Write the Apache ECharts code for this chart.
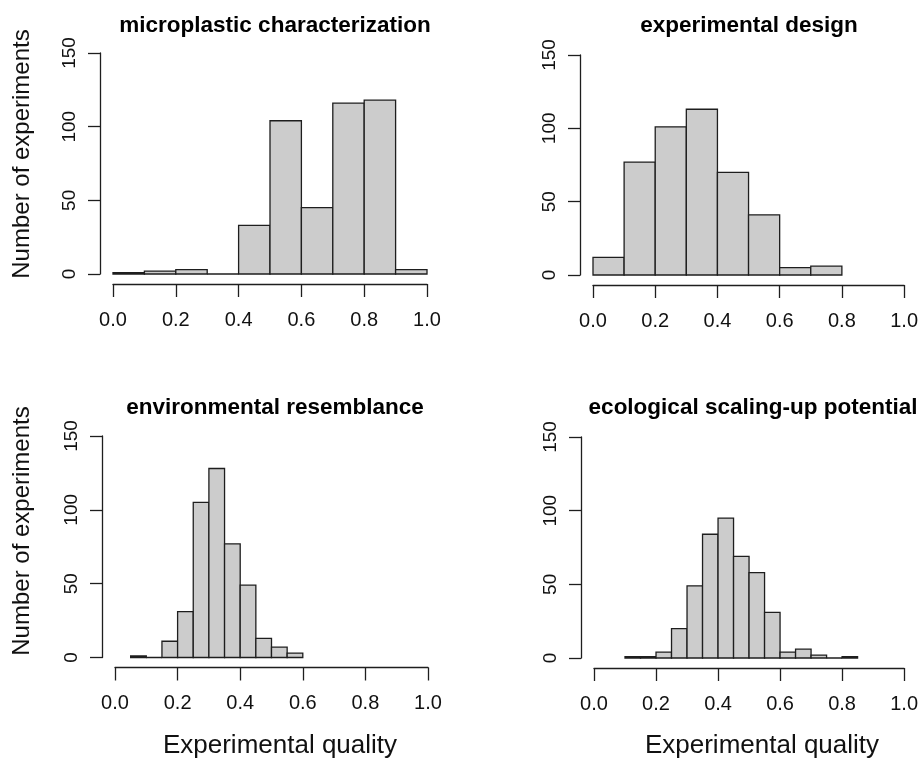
<!DOCTYPE html>
<html>
<head>
<meta charset="utf-8">
<script src="https://cdn.jsdelivr.net/npm/echarts@6/dist/echarts.min.js"></script>
<style>
html,body{margin:0;padding:0;background:#fff;}
#chart{width:921px;height:759px;}
</style>
</head>
<body>
<div id="chart"></div>
<script>
// ---- data ----
const panelTitles = ['microplastic characterization', 'experimental design', 'environmental resemblance', 'ecological scaling-up potential'];
const xTitle = 'Experimental quality';
const yTitle = 'Number of experiments';

const edges1 = [0.0, 0.1, 0.2, 0.3, 0.4, 0.5, 0.6, 0.7, 0.8, 0.9, 1.0];
const counts1 = [1, 2, 3, 0, 33, 104, 45, 116, 118, 3];

const edges2 = [0.0, 0.1, 0.2, 0.3, 0.4, 0.5, 0.6, 0.7, 0.8];
const counts2 = [12, 77, 101, 113, 70, 41, 5, 6];

const edges3 = [0.05, 0.10, 0.15, 0.20, 0.25, 0.30, 0.35, 0.40, 0.45, 0.50, 0.55, 0.60];
const counts3 = [1, 0, 11, 31, 105, 128, 77, 49, 13, 7, 3];

const edges4 = [0.10, 0.15, 0.20, 0.25, 0.30, 0.35, 0.40, 0.45, 0.50, 0.55, 0.60, 0.65, 0.70, 0.75, 0.80, 0.85];
const counts4 = [1, 1, 4, 20, 49, 84, 95, 69, 58, 31, 4, 6, 2, 0, 1];

const xTicks = [0.0, 0.2, 0.4, 0.6, 0.8, 1.0];
const yTicks = [0, 50, 100, 150];

// ---- build ----
const FONT = '"Liberation Sans", Arial, Helvetica, sans-serif';
const AX = '#1e1e1e';

function binData(edges, counts) {
  return counts.map((c, i) => [edges[i], edges[i + 1], c]);
}
const panels = [
  binData(edges1, counts1),
  binData(edges2, counts2),
  binData(edges3, counts3),
  binData(edges4, counts4)
];

const grids = [
  {left: 113, top: 53, width: 314, height: 221},
  {left: 593, top: 55, width: 313, height: 220},
  {left: 115, top: 436, width: 313, height: 221.5},
  {left: 594, top: 437, width: 313, height: 221}
];

const xAxes = grids.map((g, i) => ({
  type: 'value', gridIndex: i,
  min: xTicks[0], max: xTicks[xTicks.length - 1], interval: 0.2,
  offset: 10,
  axisLine: {show: true, onZero: false, lineStyle: {color: AX, width: 1.3}},
  axisTick: {show: true, length: 13, lineStyle: {color: AX, width: 1.3}},
  axisLabel: {margin: 26, fontSize: 20, color: '#111', fontFamily: FONT,
    formatter: v => v.toFixed(1)},
  splitLine: {show: false}
}));

const yAxes = grids.map((g, i) => ({
  type: 'value', gridIndex: i,
  min: yTicks[0], max: yTicks[yTicks.length - 1], interval: 50,
  offset: 13,
  axisLine: {show: true, onZero: false, lineStyle: {color: AX, width: 1.3}},
  axisTick: {show: true, length: 12, lineStyle: {color: AX, width: 1.3}},
  axisLabel: {margin: 21, fontSize: 19, color: '#111', fontFamily: FONT, rotate: 90},
  splitLine: {show: false}
}));

const series = panels.map((d, i) => ({
  type: 'custom', xAxisIndex: i, yAxisIndex: i,
  data: d,
  encode: {x: [0, 1], y: 2},
  renderItem: function (params, api) {
    const p0 = api.coord([api.value(0), 0]);
    const p1 = api.coord([api.value(1), api.value(2)]);
    return {
      type: 'rect',
      shape: {x: p0[0], y: p1[1], width: p1[0] - p0[0], height: p0[1] - p1[1]},
      style: {fill: '#cccccc', stroke: '#1e1e1e', lineWidth: 1.3}
    };
  },
  silent: true
}));

const titlePos = [[270, 23], [744, 23], [270, 405], [748, 405]];
const titles = panelTitles.map((t, i) => ({
  text: t, left: titlePos[i][0], top: titlePos[i][1] - 14, textAlign: 'center',
  textStyle: {fontSize: 22.5, fontWeight: 'bold', color: '#000', fontFamily: FONT}
}));

const graphic = [
  {type: 'text', x: 22.5, y: 154, rotation: Math.PI / 2,
    style: {text: yTitle, fontSize: 24, fontFamily: FONT, fill: '#111', align: 'center', verticalAlign: 'middle'}},
  {type: 'text', x: 22.5, y: 531, rotation: Math.PI / 2,
    style: {text: yTitle, fontSize: 24, fontFamily: FONT, fill: '#111', align: 'center', verticalAlign: 'middle'}},
  {type: 'text', x: 280, y: 746,
    style: {text: xTitle, fontSize: 26, fontFamily: FONT, fill: '#111', align: 'center', verticalAlign: 'middle'}},
  {type: 'text', x: 762, y: 746,
    style: {text: xTitle, fontSize: 26, fontFamily: FONT, fill: '#111', align: 'center', verticalAlign: 'middle'}}
];

const chart = echarts.init(document.getElementById('chart'), null, {renderer: 'canvas'});
chart.setOption({
  backgroundColor: '#ffffff',
  animation: false,
  title: titles,
  grid: grids,
  xAxis: xAxes,
  yAxis: yAxes,
  series: series,
  graphic: graphic
});
</script>
</body>
</html>
